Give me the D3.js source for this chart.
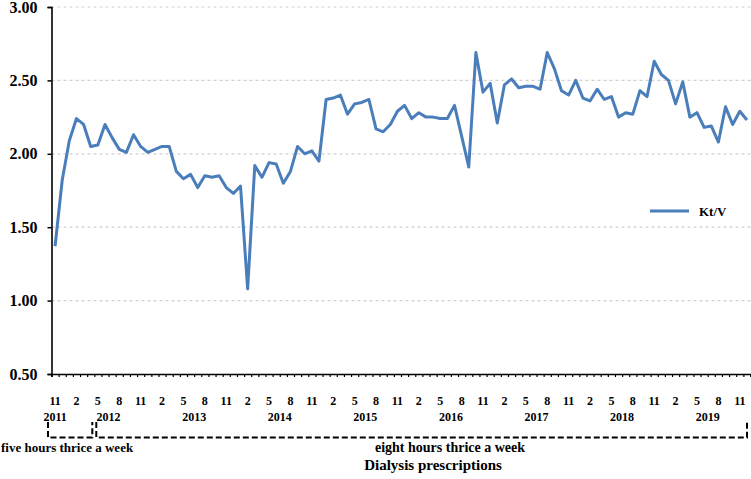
<!DOCTYPE html>
<html>
<head>
<meta charset="utf-8">
<script src="https://cdn.jsdelivr.net/npm/d3@7"></script>
<style>
  body { margin: 0; background: #fff; }
  text { font-family: "Liberation Serif", "Times New Roman", serif; font-weight: bold; fill: #000; }
</style>
</head>
<body>
<div id="chart"></div>
<script>

// monthly Kt/V, Nov 2011 .. Dec 2019
const ktv = [
    1.37, 1.82,
    2.09, 2.24, 2.20, 2.05, 2.06, 2.20, 2.11, 2.03, 2.01, 2.13, 2.05, 2.01,
    2.03, 2.05, 2.05, 1.88, 1.83, 1.86, 1.77, 1.85, 1.84, 1.85, 1.77, 1.73,
    1.78, 1.08, 1.92, 1.84, 1.94, 1.93, 1.80, 1.88, 2.05, 2.00, 2.02, 1.95,
    2.37, 2.38, 2.40, 2.27, 2.34, 2.35, 2.37, 2.17, 2.15, 2.20, 2.29, 2.33,
    2.24, 2.28, 2.25, 2.25, 2.24, 2.24, 2.33, 2.12, 1.91, 2.69, 2.42, 2.48,
    2.21, 2.47, 2.51, 2.45, 2.46, 2.46, 2.44, 2.69, 2.58, 2.43, 2.40, 2.50,
    2.38, 2.36, 2.44, 2.37, 2.39, 2.25, 2.28, 2.27, 2.43, 2.39, 2.63, 2.54,
    2.50, 2.34, 2.49, 2.25, 2.28, 2.18, 2.19, 2.08, 2.32, 2.20, 2.29, 2.23
];
const months = d3.timeMonth.range(new Date(2011, 10, 1), new Date(2020, 0, 1));

const tickMonths = [11, 2, 5, 8];
const years = ["2011", "2012", "2013", "2014", "2015", "2016", "2017", "2018", "2019"];
const yTicks = [0.5, 1.0, 1.5, 2.0, 2.5, 3.0];

const periodLabels = ["five hours thrice a week", "eight hours thrice a week"];
const periodFrom = ["2011-11", "2012-05"];
const periodTo = ["2012-04", "2019-12"];

const seriesName = "Kt/V";
const axisTitle = "Dialysis prescriptions";

let width = 751,
    height = 479;

let svg = d3.select("#chart").append("svg")
    .attr("width", width)
    .attr("height", height);

let n = ktv.length;
// boundaries of each month slot
let x = d3.scaleLinear().domain([0, n]).range([51.5, 750.5]);
let y = d3.scaleLinear().domain([0.5, 3.0]).range([374, 7]);

let fmtKey = d3.timeFormat("%Y-%m");
let keys = months.map(fmtKey);

// grid
svg.append("g")
    .selectAll("line")
    .data(yTicks.filter(d => d > 0.5))
    .enter()
    .append("line")
    .attr("x1", x(0)).attr("x2", width)
    .attr("y1", d => y(d)).attr("y2", d => y(d))
    .attr("stroke", "#cfcfcf")
    .attr("stroke-width", 1.2)
    .attr("stroke-dasharray", "3,3");

// y axis
let yAxis = svg.append("g")
    .attr("transform", "translate(" + x(0) + ",0)")
    .call(d3.axisLeft(y).tickValues(yTicks).tickFormat(d3.format(".2f")).tickSize(4).tickPadding(10));
yAxis.select(".domain").attr("stroke", "#000").attr("stroke-width", 1.6);
yAxis.selectAll(".tick line").attr("stroke", "#000").attr("stroke-width", 1.5);
yAxis.selectAll("text")
    .style("font-family", "Liberation Serif, serif")
    .style("font-weight", "bold")
    .style("font-size", "16px")
    .attr("fill", "#000");

// x axis: a tick at every month boundary
let xAxis = svg.append("g")
    .attr("transform", "translate(0," + y(0.5) + ")")
    .call(d3.axisBottom(x).tickValues(d3.range(n + 1)).tickSize(3).tickFormat(""));
xAxis.select(".domain").attr("stroke", "#000").attr("stroke-width", 1.5);
xAxis.selectAll(".tick line").attr("stroke", "#000").attr("stroke-width", 1.2);

// month labels
svg.append("g")
    .selectAll("text")
    .data(months.map((d, i) => ({d: d, i: i})).filter(o => tickMonths.includes(o.d.getMonth() + 1)))
    .enter()
    .append("text")
    .attr("x", o => x(o.i + 0.5))
    .attr("y", 405)
    .attr("text-anchor", "middle")
    .style("font-size", "12px")
    .text(o => o.d.getMonth() + 1);

// year labels
svg.append("g")
    .selectAll("text")
    .data(years)
    .enter()
    .append("text")
    .attr("x", function(d){
        let idx = keys.map(k => k.slice(0, 4)).reduce((a, k, i) => k == d ? a.concat(i) : a, []);
        if (d == "2011") return x(idx[0] + 0.5);
        // centred between the May and Aug labels
        let may = keys.indexOf(d + "-05"), aug = keys.indexOf(d + "-08");
        return (x(may + 0.5) + x(aug + 0.5)) / 2;
    })
    .attr("y", 421)
    .attr("text-anchor", "middle")
    .style("font-size", "12px")
    .text(d => d);

// line
let line = d3.line()
    .x((d, i) => x(i + 0.5))
    .y(d => y(d));

svg.append("path")
    .datum(ktv)
    .attr("d", line)
    .attr("fill", "none")
    .attr("stroke", "#4a7ebb")
    .attr("stroke-width", 3)
    .attr("stroke-linejoin", "round");

// legend
let lg = svg.append("g").attr("transform", "translate(650,211)");
lg.append("line").attr("x1", 0).attr("x2", 39).attr("y1", 0).attr("y2", 0)
    .attr("stroke", "#4a7ebb").attr("stroke-width", 3);
lg.append("text").attr("x", 49).attr("y", 4.5).style("font-size", "13px").text(seriesName);

// prescription brackets
let bTop = 422, bBot = 437.5;
periodLabels.forEach(function(label, i){
    let a = keys.indexOf(periodFrom[i]),
        b = keys.indexOf(periodTo[i]) + 1;
    let x1 = x(a) + (a == 0 ? -3.5 : 2),
        x2 = x(b) - (b == n ? 3.5 : 2);
    svg.append("path")
        .attr("d", "M" + x1 + "," + bTop + "V" + bBot + "H" + x2 + "V" + bTop)
        .attr("fill", "none")
        .attr("stroke", "#000")
        .attr("stroke-width", 2)
        .attr("stroke-dasharray", "6,3");
});

svg.append("text").attr("x", 1).attr("y", 452)
    .style("font-size", "13px").text(periodLabels[0]);
svg.append("text").attr("x", 450).attr("y", 452).attr("text-anchor", "middle")
    .style("font-size", "14px").text(periodLabels[1]);

svg.append("text")
    .attr("x", 433).attr("y", 470)
    .attr("text-anchor", "middle")
    .style("font-size", "15px")
    .text(axisTitle);

</script>
</body>
</html>
